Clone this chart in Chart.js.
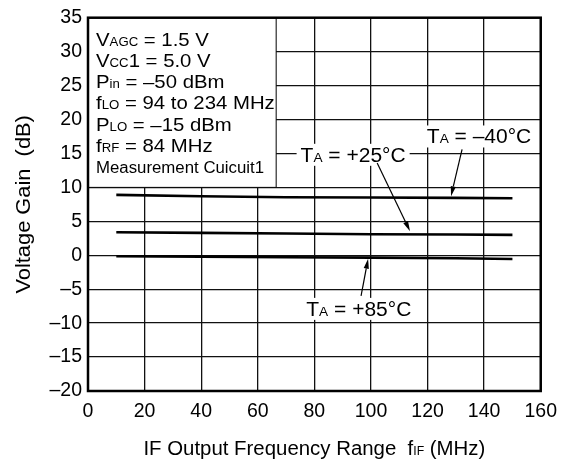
<!DOCTYPE html>
<html lang="en">
  <head>
    <meta charset="UTF-8" />
    <title>Voltage Gain vs IF Output Frequency</title>
    <script src="https://cdn.jsdelivr.net/npm/chart.js"></script>
    <style>
      html, body { margin: 0; padding: 0; background: #fff; }
      #wrap { width: 566px; height: 466px; }
    </style>
  </head>
  <body>
    <div id="wrap"><canvas id="gainChart" width="566" height="466"></canvas></div>
    <script>
      // data
      const freqs = [10, 40, 70, 100, 130, 150];
      const gainMinus40 = [8.9, 8.7, 8.55, 8.5, 8.45, 8.4];
      const gainPlus25 = [3.4, 3.3, 3.2, 3.1, 3.05, 3.0];
      const gainPlus85 = [-0.15, -0.2, -0.3, -0.35, -0.45, -0.55];

      const xTicks = [0, 20, 40, 60, 80, 100, 120, 140, 160];
      const yTicks = [-20, -15, -10, -5, 0, 5, 10, 15, 20, 25, 30, 35];

      const FONT = '"Liberation Sans", Arial, Helvetica, sans-serif';

      // text in the condition box: [main, subscript, rest]
      const conditions = [
        ['V', 'AGC', ' = 1.5 V'],
        ['V', 'CC', '1 = 5.0 V'],
        ['P', 'in', ' = \u201350 dBm'],
        ['f', 'LO', ' = 94 to 234 MHz'],
        ['P', 'LO', ' = \u201315 dBm'],
        ['f', 'RF', ' = 84 MHz'],
      ];

      // curve labels with arrows, in data units
      const curveNotes = [
        { temp: '+25', x: 93.7, y: 14.8, from: [102.2, 13.6], to: [113.8, 3.55] },
        { temp: '\u201340', x: 138.2, y: 17.5, from: [132.2, 15.6], to: [128.3, 8.7] },
        { temp: '+85', x: 95.7, y: -7.9, from: [96.5, -6.0], to: [99.0, -0.5] },
      ];

      const toPoints = (ys) => ys.map((y, i) => ({ x: freqs[i], y: y }));

      // draws [main, sub, main...] text, squeezed/stretched by sx; returns width
      function richText(ctx, parts, x, y, big, small, sx, measureOnly) {
        let w = 0;
        ctx.save();
        ctx.translate(x, y);
        ctx.scale(sx, 1);
        parts.forEach((p, i) => {
          ctx.font = (i === 1 ? small : big) + 'px ' + FONT;
          if (!measureOnly) ctx.fillText(p, w, 0);
          w += ctx.measureText(p).width;
        });
        ctx.restore();
        return w * sx;
      }

      function arrow(ctx, x1, y1, x2, y2) {
        const ang = Math.atan2(y2 - y1, x2 - x1);
        const len = 10, half = 2.6;
        ctx.beginPath();
        ctx.moveTo(x1, y1);
        ctx.lineTo(x2 - Math.cos(ang) * len, y2 - Math.sin(ang) * len);
        ctx.lineWidth = 1.2;
        ctx.stroke();
        ctx.beginPath();
        ctx.moveTo(x2, y2);
        ctx.lineTo(x2 - Math.cos(ang) * len - Math.sin(ang) * half, y2 - Math.sin(ang) * len + Math.cos(ang) * half);
        ctx.lineTo(x2 - Math.cos(ang) * len + Math.sin(ang) * half, y2 - Math.sin(ang) * len - Math.cos(ang) * half);
        ctx.closePath();
        ctx.fill();
      }

      const notesPlugin = {
        id: 'notes',
        afterDatasetsDraw(chart) {
          const { ctx, chartArea: a, scales } = chart;
          const xs = scales.x, ys = scales.y;
          ctx.save();
          ctx.fillStyle = '#000';
          ctx.strokeStyle = '#000';
          ctx.textBaseline = 'alphabetic';
          ctx.textAlign = 'left';

          // condition box
          const boxR = xs.getPixelForValue(66.5);
          const boxB = ys.getPixelForValue(10);
          ctx.fillStyle = '#fff';
          ctx.fillRect(a.left, a.top, boxR - a.left, boxB - a.top);
          ctx.lineWidth = 1;
          ctx.strokeRect(a.left, a.top, boxR - a.left, boxB - a.top);
          ctx.fillStyle = '#000';
          conditions.forEach((c, i) => {
            richText(ctx, c, a.left + 8, a.top + 28 + i * 21.2, 18.5, 12, 1.1);
          });
          richText(ctx, ['Measurement Cuicuit1'], a.left + 8, a.top + 155, 16, 16, 1.05);

          // curve labels
          curveNotes.forEach((n) => {
            const parts = ['T', 'A', ' = ' + n.temp + '\u00b0C'];
            const w = richText(ctx, parts, 0, 0, 20, 13, 1.05, true);
            const cx = xs.getPixelForValue(n.x);
            const cy = ys.getPixelForValue(n.y);
            ctx.fillStyle = '#fff';
            ctx.fillRect(cx - w / 2 - 4, cy - 11, w + 8, 22);
            ctx.fillStyle = '#000';
            richText(ctx, parts, cx - w / 2, cy + 7, 20, 13, 1.05);
            arrow(ctx,
              xs.getPixelForValue(n.from[0]), ys.getPixelForValue(n.from[1]),
              xs.getPixelForValue(n.to[0]), ys.getPixelForValue(n.to[1]));
          });
          ctx.restore();
        },
        afterDraw(chart) {
          const { ctx, chartArea: a } = chart;
          ctx.save();
          // plot frame
          ctx.strokeStyle = '#000';
          ctx.lineWidth = 2.5;
          ctx.strokeRect(a.left, a.top, a.right - a.left, a.bottom - a.top);

          // axis titles
          ctx.fillStyle = '#000';
          ctx.textBaseline = 'alphabetic';
          const xParts = ['IF Output Frequency Range  f', 'IF', ' (MHz)'];
          const w = richText(ctx, xParts, 0, 0, 20, 12, 1.02, true);
          richText(ctx, xParts, (a.left + a.right) / 2 - w / 2, 455, 20, 12, 1.02);

          ctx.translate(30, (a.top + a.bottom) / 2);
          ctx.rotate(-Math.PI / 2);
          ctx.scale(1.04, 1);
          ctx.font = '21px ' + FONT;
          ctx.textAlign = 'center';
          ctx.fillText('Voltage Gain  (dB)', 0, 0);
          ctx.restore();
        },
      };

      const lineStyle = {
        borderColor: '#000',
        borderWidth: 2.6,
        pointRadius: 0,
        fill: false,
        tension: 0,
      };

      const dash = (v) => String(v).replace('-', '\u2013');

      new Chart(document.getElementById('gainChart'), {
        type: 'line',
        data: {
          datasets: [
            Object.assign({ label: 'TA = -40°C', data: toPoints(gainMinus40) }, lineStyle),
            Object.assign({ label: 'TA = +25°C', data: toPoints(gainPlus25) }, lineStyle),
            Object.assign({ label: 'TA = +85°C', data: toPoints(gainPlus85) }, lineStyle),
          ],
        },
        options: {
          responsive: false,
          animation: false,
          layout: { padding: { top: 13, right: 24, left: 0, bottom: 0 } },
          plugins: {
            legend: { display: false },
            tooltip: { enabled: false },
          },
          scales: {
            x: {
              type: 'linear',
              min: 0,
              max: 160,
              afterBuildTicks: (s) => { s.ticks = xTicks.map((v) => ({ value: v })); },
              afterFit: (s) => { s.height = 75; },
              grid: { color: '#111', lineWidth: 1.3, drawTicks: false },
              border: { display: false },
              ticks: {
                padding: 9,
                color: '#000',
                font: { family: FONT, size: 19.5 },
                maxRotation: 0,
                callback: dash,
              },
            },
            y: {
              type: 'linear',
              min: -20,
              max: 35,
              afterBuildTicks: (s) => { s.ticks = yTicks.map((v) => ({ value: v })); },
              afterFit: (s) => { s.width = 88; },
              grid: { color: '#111', lineWidth: 1.3, drawTicks: false },
              border: { display: false },
              ticks: {
                padding: 6,
                color: '#000',
                font: { family: FONT, size: 19.5 },
                callback: dash,
              },
            },
          },
        },
        plugins: [notesPlugin],
      });
    </script>
  </body>
</html>
